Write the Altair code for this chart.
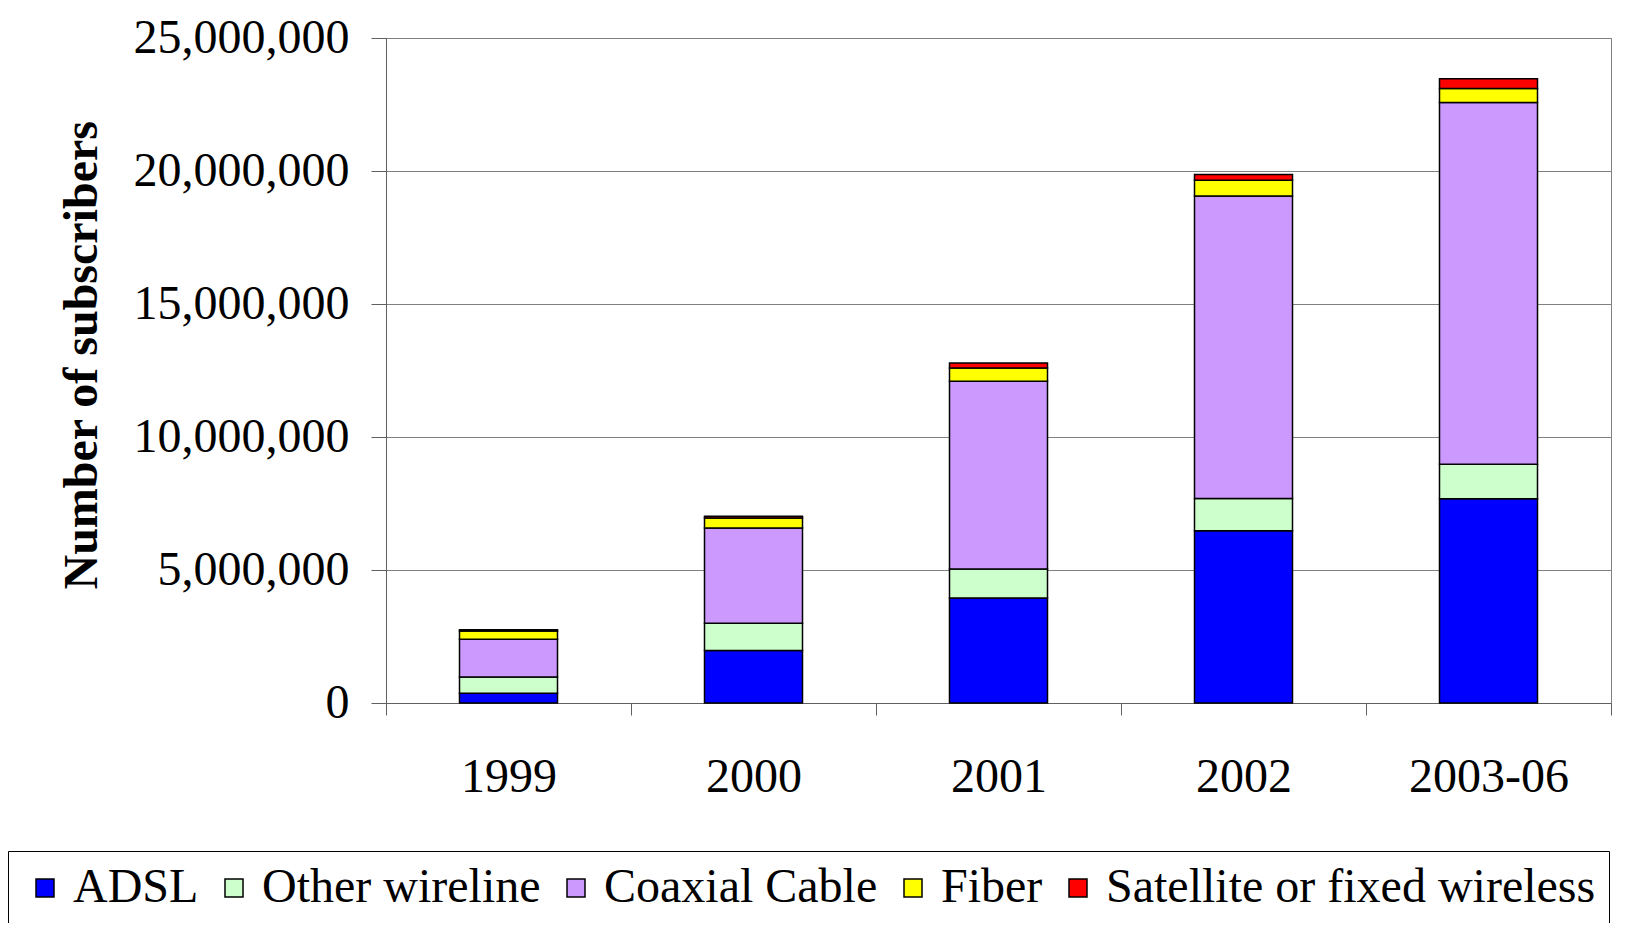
import altair as alt
import pandas as pd

years = ["1999", "2000", "2001", "2002", "2003-06"]
technologies = ["ADSL", "Other wireline", "Coaxial Cable", "Fiber", "Satellite or fixed wireless"]
adsl = [369792, 1977101, 3947808, 6471716, 7675114]
other_wireline = [609909, 1021291, 1088066, 1216965, 1300000]
coaxial_cable = [1414183, 3582874, 7059598, 11369087, 13600000]
fiber = [312204, 376203, 494199, 597627, 530000]
satellite_wireless = [50404, 65615, 194900, 212113, 360000]
colors = ["#0000FF", "#CCFFCC", "#CC99FF", "#FFFF00", "#FF0000"]
y_ticks = [0, 5000000, 10000000, 15000000, 20000000, 25000000]

series = [adsl, other_wireline, coaxial_cable, fiber, satellite_wireless]
rows = []
for k, (tech, vals) in enumerate(zip(technologies, series)):
    for yr, v in zip(years, vals):
        rows.append({"Year": yr, "Technology": tech, "Subscribers": v, "idx": k})
df = pd.DataFrame(rows)

FONT = "Liberation Serif"

chart = alt.Chart(df).mark_bar(
    width=alt.RelativeBandSize(0.4), stroke="black", strokeWidth=1.5
).encode(
    x=alt.X("Year:N", sort=years,
            scale=alt.Scale(paddingInner=0, paddingOuter=0),
            axis=alt.Axis(title=None, labelAngle=0, tickBand="extent",
                          labelFont=FONT, labelFontSize=48, labelColor="black",
                          labelPadding=38, tickSize=12, tickColor="#606060",
                          domainColor="#606060", grid=False)),
    y=alt.Y("Subscribers:Q", stack="zero",
            scale=alt.Scale(domain=[0, 25000000], nice=False),
            axis=alt.Axis(title="Number of subscribers", values=y_ticks, format=",d",
                          labelFont=FONT, labelFontSize=48, labelColor="black",
                          labelLimit=0,
                          labelPadding=22, tickSize=15, tickColor="#606060",
                          domainColor="#606060", gridColor="#808080", gridWidth=1,
                          titleFont=FONT, titleFontSize=48, titleFontWeight="bold",
                          titleColor="black", titleAngle=270, titleAlign="left",
                          titleBaseline="middle", titleX=-304, titleY=551)),
    color=alt.Color("Technology:N", sort=technologies,
                    scale=alt.Scale(domain=technologies, range=colors),
                    legend=alt.Legend(title=None, orient="none", legendX=-378, legendY=813,
                                      direction="horizontal", symbolType="square",
                                      symbolSize=324, symbolStrokeColor="black",
                                      symbolStrokeWidth=1.5, labelFont=FONT,
                                      labelFontSize=48, labelColor="black",
                                      labelOffset=4, labelLimit=0, columnPadding=11,
                                      strokeColor="black", padding=13)),
    order=alt.Order("idx:Q", sort="ascending"),
).properties(
    width=1225, height=665,
    autosize=alt.AutoSizeParams(type="none"),
    padding={"left": 378, "top": 30, "right": 16, "bottom": 220},
).configure_view(stroke="#808080", strokeWidth=1)

chart.save("out.html", embed_options={"renderer": "svg", "actions": False})
